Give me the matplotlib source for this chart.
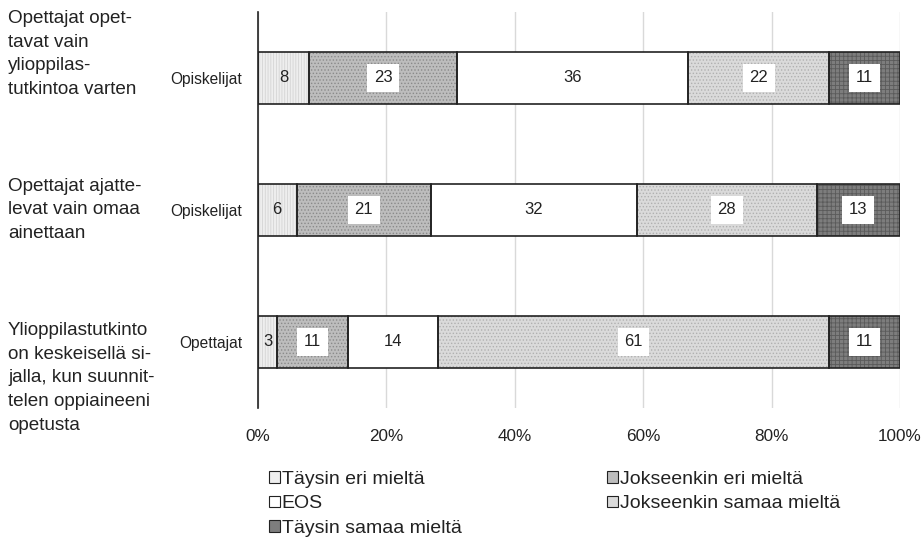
import matplotlib
matplotlib.use("Agg")
import matplotlib.pyplot as plt
from matplotlib.patches import Patch

plt.rcParams['font.family'] = ['Liberation Sans', 'DejaVu Sans']
plt.rcParams['hatch.linewidth'] = 0.6

questions = [
    "Opettajat opet-\ntavat vain\nylioppilas-\ntutkintoa varten",
    "Opettajat ajatte-\nlevat vain omaa\nainettaan",
    "Ylioppilastutkinto\non keskeisellä si-\njalla, kun suunnit-\ntelen oppiaineeni\nopetusta",
]
groups = ["Opiskelijat", "Opiskelijat", "Opettajat"]
series = ["Täysin eri mieltä", "Jokseenkin eri mieltä", "EOS",
          "Jokseenkin samaa mieltä", "Täysin samaa mieltä"]
values = [
    [8, 6, 3],
    [23, 21, 11],
    [36, 32, 14],
    [22, 28, 61],
    [11, 13, 11],
]
xticks = [0, 20, 40, 60, 80, 100]
xticklabels = ["0%", "20%", "40%", "60%", "80%", "100%"]

faces = ['#eeeeee', '#bdbdbd', '#ffffff', '#dadada', '#7d7d7d']
hatches = ['||||||', '.....', None, '.....', '++++']
hatchcols = ['#d4d4d4', '#8a8a8a', None, '#b0b0b0', '#5a5a5a']

fig = plt.figure(figsize=(9.24, 5.41), dpi=100)
ax = fig.add_axes([0.2792, 0.246, 0.6948, 0.732])

ypos = list(range(len(groups)))
left = [0] * len(groups)
for i, name in enumerate(series):
    vals = values[i]
    ax.barh(ypos, vals, left=left, height=0.395, color=faces[i],
            edgecolor='none', zorder=2)
    if hatches[i]:
        ax.barh(ypos, vals, left=left, height=0.395, color='none',
                edgecolor=hatchcols[i], hatch=hatches[i], linewidth=0, zorder=2.5)
    ax.barh(ypos, vals, left=left, height=0.395, color='none',
            edgecolor='#222222', linewidth=1.2, zorder=3)
    for j, v in enumerate(vals):
        cx = left[j] + v / 2
        if i == 0:
            ax.text(cx, ypos[j], str(v), ha='center', va='center', fontsize=12,
                    color='#222222', zorder=5)
        else:
            ax.text(cx, ypos[j], str(v), ha='center', va='center', fontsize=12,
                    color='#222222', zorder=5,
                    bbox=dict(boxstyle='square,pad=0.4', fc='white', ec='none'))
    left = [l + v for l, v in zip(left, vals)]

ax.set_xlim(0, 100)
ax.set_ylim(2.5, -0.5)
ax.set_xticks(xticks)
ax.set_xticklabels(xticklabels, fontsize=12.3, color='#222222')
ax.set_yticks(ypos)
ax.set_yticklabels(groups, fontsize=11.2, color='#222222')
ax.tick_params(axis='x', length=0, pad=15.5)
ax.tick_params(axis='y', length=0, pad=11.5)
ax.grid(axis='x', color='#d9d9d9', linewidth=1, zorder=0)
ax.set_axisbelow(True)
for s in ['top', 'right', 'bottom']:
    ax.spines[s].set_visible(False)
ax.spines['left'].set_color('#222222')
ax.spines['left'].set_linewidth(1.2)
ax.spines['left'].set_zorder(4)

qy = [54, 210, 378]
for q, y in zip(questions, qy):
    fig.text(8 / 924, 1 - y / 541, q, ha='left', va='center', fontsize=13.6,
             color='#222222', linespacing=1.52)

handles = []
for i, name in enumerate(series):
    handles.append(Patch(facecolor=faces[i], edgecolor='#222222',
                         hatch=None, linewidth=0.8, label=name))
order = [0, 2, 4, 1, 3]
leg = fig.legend([handles[k] for k in order], [series[k] for k in order],
                 ncol=2, loc='upper left', bbox_to_anchor=(269 / 924, 1 - 471 / 541),
                 frameon=False, fontsize=14, handlelength=0.55, handleheight=0.55,
                 handletextpad=0.1, columnspacing=7.5, labelspacing=0.38,
                 borderaxespad=0, borderpad=0)
for t in leg.get_texts():
    t.set_color('#222222')

fig.savefig("out.png", dpi=100)
